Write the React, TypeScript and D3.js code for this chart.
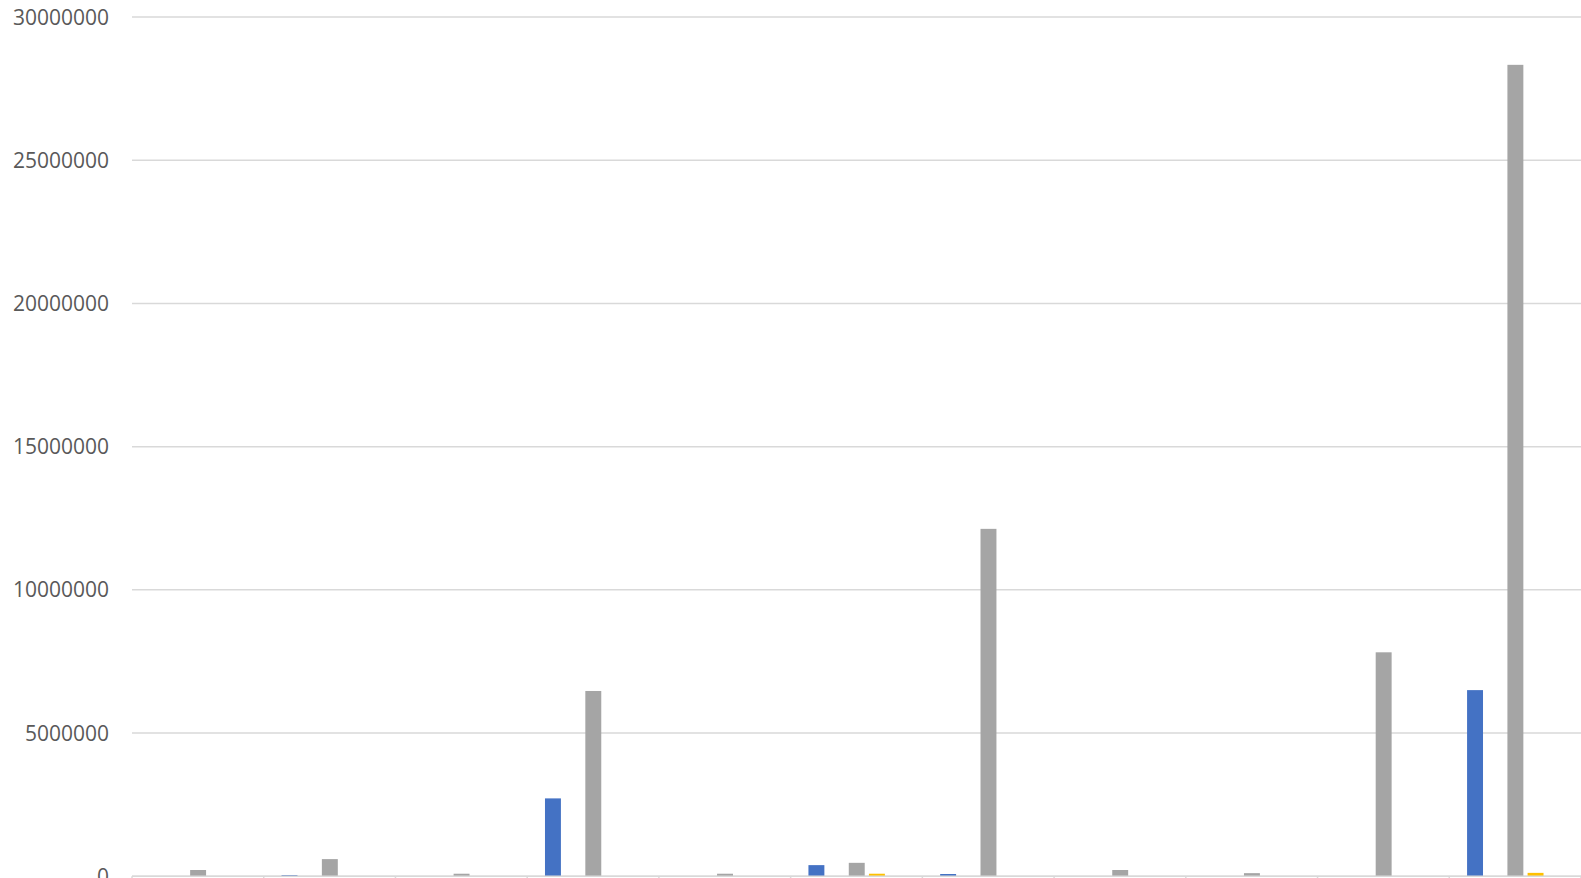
import React from "react";
import * as d3 from "d3";

const categories = ["1", "2", "3", "4", "5", "6", "7", "8", "9", "10", "11"];
const seriesNames = ["Series1", "Series2", "Series3", "Series4", "Series5"];
const seriesColors = ["#4472C4", "#ED7D31", "#A5A5A5", "#FFC000", "#5B9BD5"];
const series1 = [0, 40000, 0, 2720000, 0, 390000, 80000, 0, 0, 0, 6500000];
const series2 = [0, 0, 0, 0, 0, 0, 0, 0, 0, 0, 0];
const series3 = [220000, 600000, 90000, 6470000, 90000, 470000, 12130000, 220000, 110000, 7820000, 28330000];
const series4 = [0, 0, 0, 0, 0, 90000, 0, 0, 0, 0, 120000];
const series5 = [0, 0, 0, 0, 0, 0, 0, 0, 0, 0, 0];
const yTicks = [0, 5000000, 10000000, 15000000, 20000000, 25000000, 30000000];

const allSeries = [series1, series2, series3, series4, series5];

export default function App() {
  const W = 1581;
  const H = 878;
  const left = 132;
  const right = 1581;
  const x0 = d3.scaleBand<string>().domain(categories).range([left, right]).padding(0);
  const groupW = x0.bandwidth();
  const x1 = d3
    .scaleBand<string>()
    .domain(seriesNames)
    .range([17.8, groupW - 17.3])
    .paddingInner(0.21)
    .paddingOuter(0);
  const y = d3.scaleLinear().domain([0, 30000000]).range([876.3, 17]);

  return (
    <svg
      width={W}
      height={H}
      style={{ position: "absolute", left: 0, top: 0, display: "block", background: "#fff" }}
    >
      {yTicks.map((t) => (
        <g key={t}>
          <line x1={left} x2={right} y1={y(t)} y2={y(t)} stroke="#d9d9d9" strokeWidth={1.5} />
          <text
            x={109}
            y={y(t)}
            dy="0.36em"
            textAnchor="end"
            fontFamily="'Open Sans', sans-serif"
            fontSize={21}
            fill="#595959"
          >
            {t}
          </text>
        </g>
      ))}
      {categories.map((c) => (
        <g key={c} transform={`translate(${x0(c)},0)`}>
          {allSeries.map((s, si) => {
            const v = s[categories.indexOf(c)];
            if (!v) return null;
            return (
              <rect
                key={si}
                x={x1(seriesNames[si])}
                y={y(v)}
                width={x1.bandwidth()}
                height={y(0) - y(v)}
                fill={seriesColors[si]}
              />
            );
          })}
        </g>
      ))}
      <line x1={left} x2={right} y1={y(0)} y2={y(0)} stroke="#d9d9d9" strokeWidth={1.5} />
      {[...categories.map((c) => x0(c) as number), right].map((xx, i) => (
        <line key={i} x1={xx} x2={xx} y1={y(0)} y2={H} stroke="#d9d9d9" strokeWidth={1.5} />
      ))}
    </svg>
  );
}
